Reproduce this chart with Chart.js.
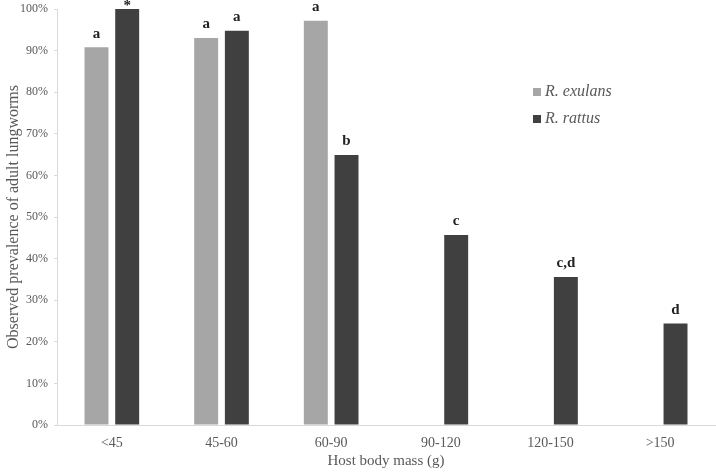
<!DOCTYPE html>
<html>
<head>
    <title>Lungworm prevalence by host body mass</title>
    <script src="https://cdn.jsdelivr.net/npm/chart.js"></script>
    <style>
        html, body { margin: 0; padding: 0; background: #fff; }
        #wrap { width: 716px; height: 474px; }
    </style>
</head>
<body>
    <div id="wrap"><canvas id="myChart"></canvas></div>
    <script>
        const massClasses = ['<45', '45-60', '60-90', '90-120', '120-150', '>150'];
        const exulans = [90.8, 93.0, 97.2, null, null, null];
        const rattus = [100, 94.8, 64.9, 45.7, 35.6, 24.4];
        const exulansLetters = ['a', 'a', 'a', '', '', ''];
        const rattusLetters = ['*', 'a', 'b', 'c', 'c,d', 'd'];
        const yTicks = [0, 10, 20, 30, 40, 50, 60, 70, 80, 90, 100];

        const serif = '"Liberation Serif", "DejaVu Serif", serif';

        // letters over bars
        const letterPlugin = {
            id: 'letters',
            afterDatasetsDraw(chart) {
                const ctx = chart.ctx;
                const sets = [exulansLetters, rattusLetters];
                ctx.save();
                ctx.font = 'bold 15px ' + serif;
                ctx.fillStyle = '#222';
                ctx.textAlign = 'center';
                ctx.textBaseline = 'bottom';
                sets.forEach((letters, di) => {
                    chart.getDatasetMeta(di).data.forEach((bar, i) => {
                        if (!letters[i] || chart.data.datasets[di].data[i] == null) return;
                        ctx.fillText(letters[i], bar.x, bar.y - (letters[i] === '*' ? -5 : 6));
                    });
                });
                ctx.restore();
            }
        };

        // legend drawn inside the plot
        const legendPlugin = {
            id: 'insideLegend',
            afterDraw(chart) {
                const ctx = chart.ctx;
                ctx.save();
                ctx.font = 'italic 16px ' + serif;
                ctx.textBaseline = 'middle';
                chart.data.datasets.forEach((ds, i) => {
                    const y = 92 + i * 27;
                    ctx.fillStyle = ds.backgroundColor;
                    ctx.fillRect(533, y - 4, 8, 8);
                    ctx.fillStyle = '#595959';
                    ctx.fillText(ds.label, 545, y);
                });
                ctx.restore();
            }
        };

        const ctx = document.getElementById('myChart').getContext('2d');
        new Chart(ctx, {
            type: 'bar',
            data: {
                labels: massClasses,
                datasets: [{
                    label: 'R. exulans',
                    data: exulans,
                    backgroundColor: '#a6a6a6',
                    categoryPercentage: 0.56,
                    barPercentage: 0.78
                }, {
                    label: 'R. rattus',
                    data: rattus,
                    backgroundColor: '#404040',
                    categoryPercentage: 0.56,
                    barPercentage: 0.78
                }]
            },
            options: {
                responsive: true,
                maintainAspectRatio: false,
                animation: false,
                layout: { padding: { top: 9, right: 1 } },
                plugins: {
                    legend: { display: false },
                    tooltip: { enabled: false }
                },
                scales: {
                    x: {
                        grid: { display: false, drawTicks: false },
                        border: { color: '#d9d9d9', width: 1 },
                        ticks: {
                            color: '#595959',
                            font: { family: serif, size: 14 },
                            padding: 10
                        },
                        title: {
                            display: true,
                            text: 'Host body mass (g)',
                            color: '#595959',
                            font: { family: serif, size: 15 },
                            padding: { top: 4 }
                        },
                        afterFit(scale) {
                            scale.height = 49;
                            scale.paddingLeft = 0;
                            scale.paddingRight = 0;
                        }
                    },
                    y: {
                        min: 0,
                        max: 100,
                        afterBuildTicks(scale) {
                            scale.ticks = yTicks.map(v => ({ value: v }));
                        },
                        grid: {
                            display: true,
                            drawOnChartArea: false,
                            drawTicks: true,
                            tickLength: 3,
                            color: '#d9d9d9'
                        },
                        border: { color: '#d9d9d9', width: 1 },
                        ticks: {
                            color: '#595959',
                            font: { family: serif, size: 12 },
                            padding: 6,
                            callback: v => v + '%'
                        },
                        title: {
                            display: true,
                            text: 'Observed prevalence of adult lungworms',
                            color: '#595959',
                            font: { family: serif, size: 16 },
                            padding: { bottom: 0 }
                        },
                        afterFit(scale) {
                            scale.width = 57;
                            scale.paddingTop = 0;
                            scale.paddingBottom = 0;
                        }
                    }
                }
            },
            plugins: [letterPlugin, legendPlugin]
        });
    </script>
</body>
</html>
